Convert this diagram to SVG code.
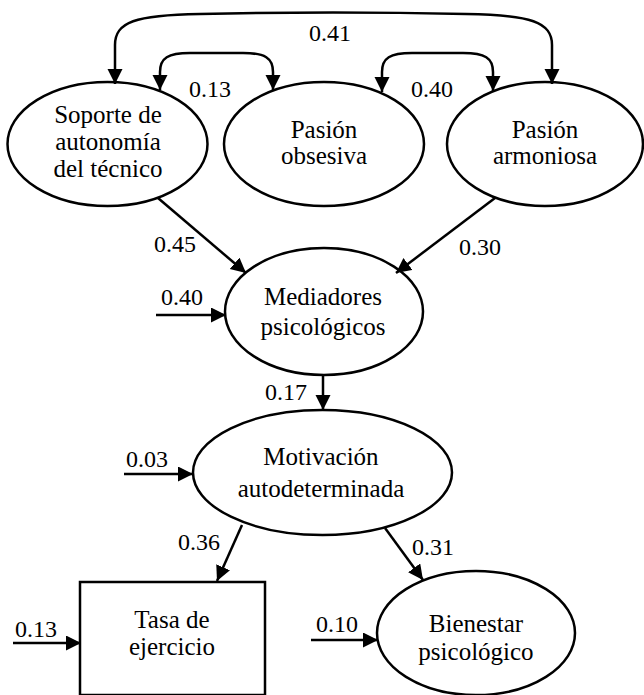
<svg xmlns="http://www.w3.org/2000/svg" width="644" height="695" viewBox="0 0 644 695">
<style>
.node{fill:#fff;stroke:#000;stroke-width:2.5}
text{font-family:'Liberation Serif','Times New Roman',serif;fill:#000;text-anchor:middle}
.lbl{font-size:25px}
.num{font-size:24px}
.edge{fill:none;stroke:#000;stroke-width:2.5}
</style>
<defs>
<marker id="ah" markerUnits="userSpaceOnUse" markerWidth="17" markerHeight="16" refX="15" refY="7.5" orient="auto-start-reverse">
<path d="M0,0 L15,7.5 L0,15 z" fill="#000"/>
</marker>
</defs>
<rect width="644" height="695" fill="#fff"/>
<g id="n1"><ellipse class="node" cx="107.5" cy="144" rx="100" ry="62"/>
<text class="lbl" x="108" y="123" font-family="Liberation Serif">Soporte de</text><text class="lbl" x="108" y="150" font-family="Liberation Serif">autonomía</text><text class="lbl" x="108" y="177" font-family="Liberation Serif">del técnico</text></g>
<g id="n2"><ellipse class="node" cx="324" cy="144" rx="100" ry="62"/>
<text class="lbl" x="324" y="138">Pasión</text><text class="lbl" x="324" y="164">obsesiva</text></g>
<g id="n3"><ellipse class="node" cx="545" cy="144" rx="98" ry="62"/>
<text class="lbl" x="545" y="138">Pasión</text><text class="lbl" x="545" y="164">armoniosa</text></g>
<g id="n4"><ellipse class="node" cx="324" cy="311.5" rx="99" ry="63.5"/>
<text class="lbl" x="323" y="305">Mediadores</text><text class="lbl" x="323" y="335">psicológicos</text></g>
<g id="n5"><ellipse class="node" cx="322.5" cy="472.5" rx="129.5" ry="62.5"/>
<text class="lbl" x="321" y="465">Motivación</text><text class="lbl" x="321" y="497">autodeterminada</text></g>
<g id="n6"><rect class="node" x="80" y="582" width="185" height="113"/>
<text class="lbl" x="172" y="628">Tasa de</text><text class="lbl" x="172" y="655">ejercicio</text></g>
<g id="n7"><ellipse class="node" cx="476" cy="633" rx="99" ry="62"/>
<text class="lbl" x="476" y="632">Bienestar</text><text class="lbl" x="476" y="660">psicológico</text></g>
<g id="edges">
<path class="edge" marker-start="url(#ah)" marker-end="url(#ah)" d="M115,84 V45 C115,22 135,15 200,14 Q333,11 466,14 C531,15 552,22 552,45 V84"/>
<path class="edge" marker-start="url(#ah)" marker-end="url(#ah)" d="M160,90 V72 C160,58 168,53 190,53 H243 C265,53 273,58 273,72 V90"/>
<path class="edge" marker-start="url(#ah)" marker-end="url(#ah)" d="M382,92 V72 C382,58 390,53 412,53 H463 C485,53 493,58 493,72 V91"/>
<path class="edge" marker-end="url(#ah)" d="M158,198 L246,273"/>
<path class="edge" marker-end="url(#ah)" d="M495,198 L396,273"/>
<path class="edge" marker-end="url(#ah)" d="M156,315 L226,315"/>
<path class="edge" marker-end="url(#ah)" d="M323,375 L323,410"/>
<path class="edge" marker-end="url(#ah)" d="M124,474 L193,474"/>
<path class="edge" marker-end="url(#ah)" d="M242,525 L217,581"/>
<path class="edge" marker-end="url(#ah)" d="M385,528 L423,580"/>
<path class="edge" marker-end="url(#ah)" d="M13,643 L81,643"/>
<path class="edge" marker-end="url(#ah)" d="M311,640 L378,640"/>
</g>
<g id="labels">
<text class="num" x="330" y="41">0.41</text>
<text class="num" x="210" y="97">0.13</text>
<text class="num" x="432" y="97">0.40</text>
<text class="num" x="175" y="252">0.45</text>
<text class="num" x="480" y="255">0.30</text>
<text class="num" x="182" y="305">0.40</text>
<text class="num" x="286" y="400">0.17</text>
<text class="num" x="147" y="467">0.03</text>
<text class="num" x="199" y="550">0.36</text>
<text class="num" x="433" y="555">0.31</text>
<text class="num" x="36" y="637">0.13</text>
<text class="num" x="337" y="632">0.10</text>
</g>
</svg>
